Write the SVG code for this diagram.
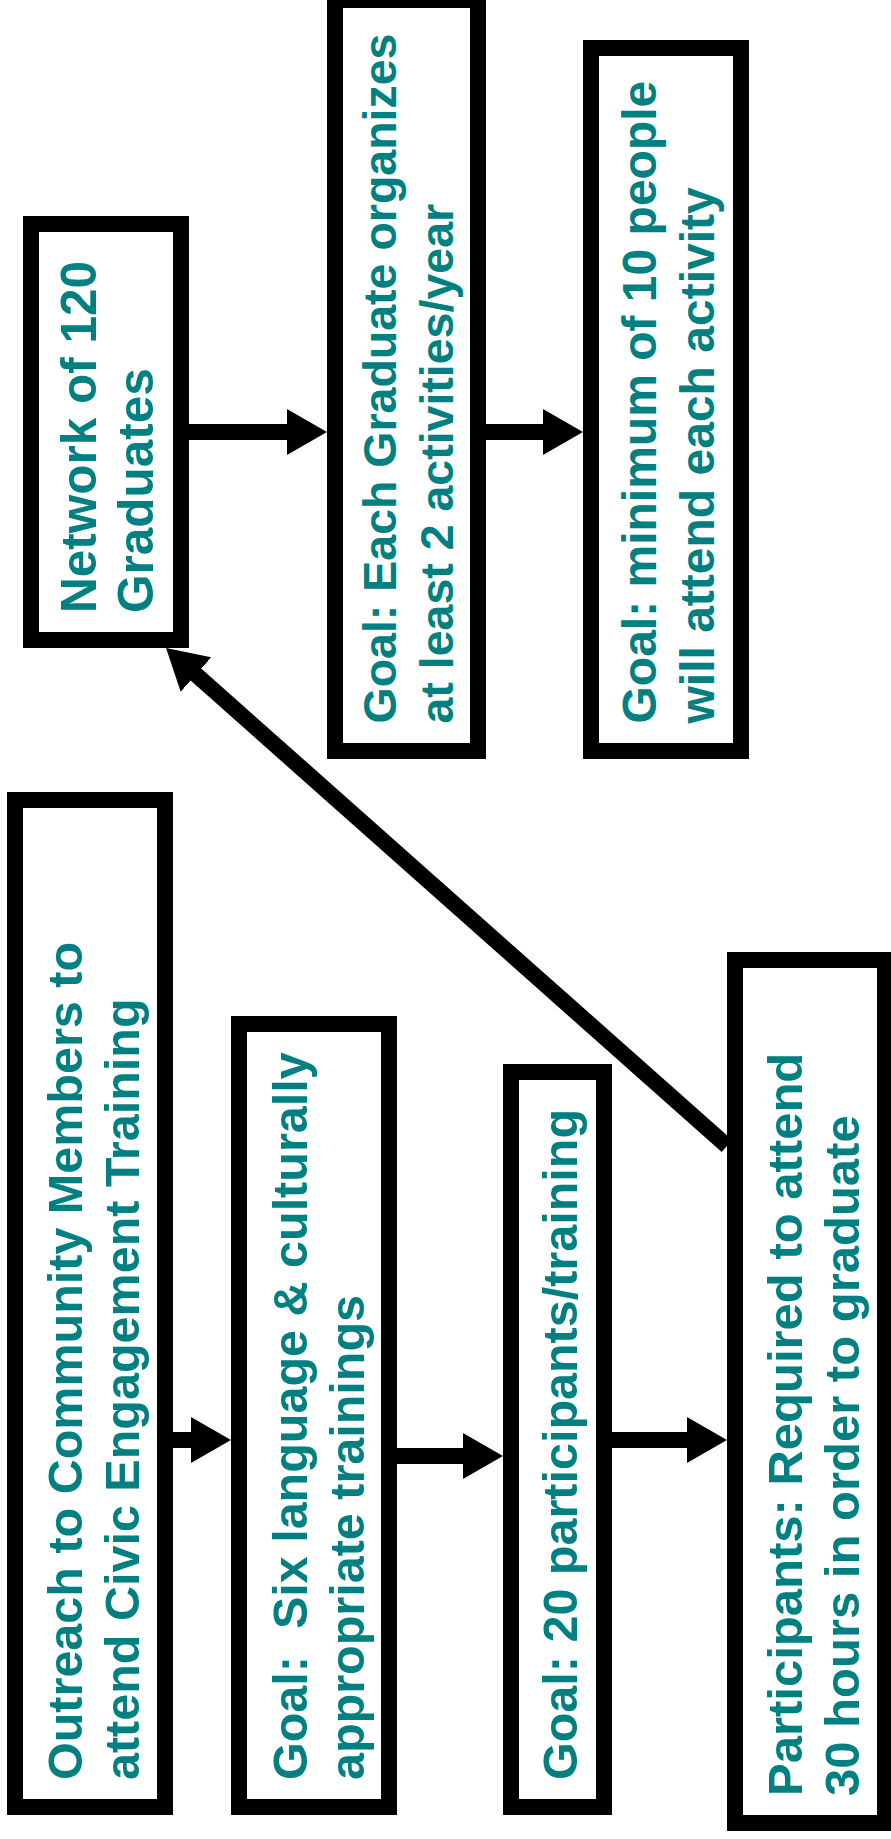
<svg xmlns="http://www.w3.org/2000/svg" width="891" height="1839" viewBox="0 0 891 1839">
  <style>
    .box { fill: #ffffff; stroke: #000000; stroke-width: 16; }
    .lbl { font-family: "Liberation Sans", Arial, sans-serif; font-weight: bold; font-size: 48.5px; fill: #008080; white-space: pre; }
    .conn { stroke: #000000; stroke-width: 16; fill: none; marker-end: url(#arrow); }
  </style>
  <defs>
    <marker id="arrow" markerUnits="userSpaceOnUse" markerWidth="40" markerHeight="46" refX="20" refY="23" orient="auto">
      <path d="M0,0 L40,23 L0,46 Z" fill="#000000"/>
    </marker>
  </defs>
  <rect width="891" height="1839" fill="#ffffff"/>

  <g id="connectors">
    <line class="conn" x1="189" y1="432" x2="307" y2="432"/>
    <line class="conn" x1="486" y1="432" x2="563" y2="432"/>
    <line class="conn" x1="173" y1="1440" x2="211" y2="1440"/>
    <line class="conn" x1="397" y1="1456" x2="483" y2="1456"/>
    <line class="conn" x1="612" y1="1440" x2="707" y2="1440"/>
    <line class="conn" x1="727" y1="1146" x2="181" y2="661.3"/>
  </g>

  <g id="node-network">
    <rect class="box" x="31" y="224" width="150" height="416"/>
    <text class="lbl" style="font-size:49.5px" transform="translate(96,613) rotate(-90)"><tspan x="0" y="0">Network of 120</tspan><tspan x="0" y="57">Graduates</tspan></text>
  </g>

  <g id="node-goal-organize">
    <rect class="box" x="335" y="0" width="143" height="751"/>
    <text class="lbl" style="font-size:46.5px" transform="translate(396,723.5) rotate(-90)"><tspan x="0" y="0">Goal: Each Graduate organizes</tspan><tspan x="0" y="57">at least 2 activities/year</tspan></text>
  </g>

  <g id="node-goal-attend">
    <rect class="box" x="591" y="48" width="150" height="703"/>
    <text class="lbl" style="font-size:48px" transform="translate(656,723.5) rotate(-90)"><tspan x="0" y="0">Goal: minimum of 10 people</tspan><tspan x="0" y="58">will attend each activity</tspan></text>
  </g>

  <g id="node-outreach">
    <rect class="box" x="15" y="800" width="150" height="1007"/>
    <text class="lbl" transform="translate(82,1780) rotate(-90)"><tspan x="0" y="0">Outreach to Community Members to</tspan><tspan x="0" y="57">attend Civic Engagement Training</tspan></text>
  </g>

  <g id="node-six-language">
    <rect class="box" x="239" y="1024" width="150" height="783"/>
    <text class="lbl" transform="translate(307,1780) rotate(-90)"><tspan x="0" y="0">Goal:  Six language &amp; culturally</tspan><tspan x="0" y="57">appropriate trainings</tspan></text>
  </g>

  <g id="node-participants-goal">
    <rect class="box" x="511" y="1072" width="93" height="735"/>
    <text class="lbl" transform="translate(577,1780) rotate(-90)"><tspan x="0" y="0">Goal: 20 participants/training</tspan></text>
  </g>

  <g id="node-required">
    <rect class="box" x="735" y="960" width="150" height="863"/>
    <text class="lbl" style="font-size:49px" transform="translate(802,1796) rotate(-90)"><tspan x="0" y="0">Participants: Required to attend</tspan><tspan x="0" y="57">30 hours in order to graduate</tspan></text>
  </g>
</svg>
